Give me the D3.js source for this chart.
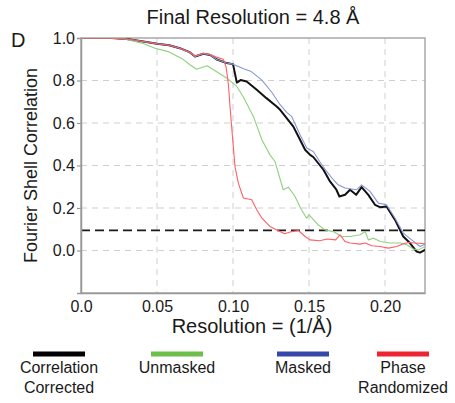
<!DOCTYPE html>
<html>
<head>
<meta charset="utf-8">
<script src="https://cdn.jsdelivr.net/npm/d3@7"></script>
<style>
  body { margin: 0; background: #fff; }
  svg text { font-family: "Liberation Sans", Arial, Helvetica, sans-serif; fill: #1a1a1a; }
</style>
</head>
<body>
<div id="chart"></div>
<script>
// FSC curves: [resolution (1/Å), FSC]
const shared = [
  [0, 1], [0.02, 1], [0.03, 0.995], [0.04, 0.985], [0.05, 0.973], [0.058, 0.966],
  [0.065, 0.952], [0.0717, 0.932], [0.075, 0.913], [0.0805, 0.926], [0.085, 0.92],
  [0.089, 0.9], [0.0958, 0.882], [0.1, 0.877],
];

const corrected = shared.concat([
  [0.1025, 0.79], [0.105, 0.802], [0.109, 0.795], [0.1156, 0.756], [0.122, 0.717],
  [0.1287, 0.678], [0.131, 0.662], [0.1353, 0.623], [0.1397, 0.583], [0.1441, 0.521],
  [0.1474, 0.474], [0.1507, 0.45], [0.1528, 0.44], [0.1595, 0.38], [0.1638, 0.325],
  [0.168, 0.286], [0.170, 0.254], [0.1737, 0.262], [0.177, 0.286], [0.181, 0.262],
  [0.1846, 0.298], [0.189, 0.262], [0.1934, 0.215], [0.1967, 0.204], [0.201, 0.207],
  [0.2066, 0.144], [0.212, 0.066], [0.2164, 0.035], [0.2208, -0.005], [0.223, -0.01],
  [0.2263, 0.003],
]);

const masked = shared.concat([
  [0.107, 0.855], [0.112, 0.842], [0.119, 0.802], [0.1254, 0.746], [0.131, 0.686],
  [0.1353, 0.65], [0.1386, 0.631], [0.1441, 0.545], [0.1485, 0.482], [0.1528, 0.466],
  [0.157, 0.419], [0.1616, 0.372], [0.166, 0.333], [0.1692, 0.309], [0.1737, 0.294],
  [0.1814, 0.286], [0.1846, 0.309], [0.1901, 0.278], [0.1956, 0.223], [0.201, 0.215],
  [0.2066, 0.152], [0.212, 0.082], [0.2175, 0.05], [0.223, 0.019], [0.2263, 0.03],
]);

const unmasked = [
  [0, 1], [0.02, 1], [0.029, 0.995], [0.04, 0.976], [0.0487, 0.952], [0.0574, 0.936],
  [0.063, 0.915], [0.066, 0.905], [0.0717, 0.874], [0.076, 0.853], [0.083, 0.869],
  [0.089, 0.842], [0.096, 0.811], [0.1025, 0.772], [0.107, 0.72], [0.1134, 0.631],
  [0.119, 0.521], [0.1243, 0.45], [0.1276, 0.419], [0.133, 0.286], [0.1364, 0.298],
  [0.1408, 0.254], [0.145, 0.192], [0.1485, 0.152], [0.15, 0.168], [0.156, 0.121],
  [0.1605, 0.097], [0.166, 0.089], [0.1715, 0.066], [0.177, 0.066], [0.1836, 0.074],
  [0.187, 0.089], [0.189, 0.05], [0.1924, 0.058], [0.197, 0.042], [0.2033, 0.035],
  [0.21, 0.035], [0.2143, 0.027], [0.2187, 0.007], [0.222, 0.003], [0.2263, 0.019],
];

const phaseRandomized = [
  [0, 1], [0.02, 1], [0.03, 0.995], [0.04, 0.985], [0.05, 0.973], [0.058, 0.966],
  [0.065, 0.952], [0.0717, 0.932], [0.075, 0.915], [0.0805, 0.928], [0.085, 0.922],
  [0.089, 0.91], [0.0936, 0.9], [0.0954, 0.866], [0.097, 0.78], [0.098, 0.68],
  [0.0996, 0.54], [0.1013, 0.395], [0.1035, 0.317], [0.1068, 0.247], [0.1123, 0.239],
  [0.1156, 0.192], [0.119, 0.152], [0.1243, 0.113], [0.1288, 0.097], [0.134, 0.079],
  [0.1386, 0.089], [0.143, 0.094], [0.1474, 0.066], [0.1507, 0.05], [0.157, 0.046],
  [0.162, 0.054], [0.1675, 0.05], [0.1704, 0.074], [0.1737, 0.042], [0.177, 0.035],
  [0.1836, 0.03], [0.187, 0.035], [0.1913, 0.022], [0.1967, 0.019], [0.2022, 0.011],
  [0.2077, 0.019], [0.2121, 0.032], [0.2154, 0.038], [0.2198, 0.035], [0.2263, 0.032],
];

const threshold = 0.095;
const xTicks = [0, 0.05, 0.1, 0.15, 0.2];
const xTickLabels = ['0.0', '0.05', '0.10', '0.15', '0.20'];
const yTicks = [0, 0.2, 0.4, 0.6, 0.8, 1.0];
const yTickLabels = ['0.0', '0.2', '0.4', '0.6', '0.8', '1.0'];

const series = [
  { key: 'corrected', label: ['Correlation', 'Corrected'], values: corrected, color: '#111', legend: '#000', width: 2, lx: 59 },
  { key: 'unmasked', label: ['Unmasked'], values: unmasked, color: '#8fd07e', legend: '#6bbf4a', width: 1.1, lx: 177 },
  { key: 'masked', label: ['Masked'], values: masked, color: '#8796d6', legend: '#3547a8', width: 1.1, lx: 303 },
  { key: 'phase', label: ['Phase', 'Randomized'], values: phaseRandomized, color: '#ff5f66', legend: '#ee2430', width: 1.1, lx: 403 },
];
// draw order: black at the bottom, red on top
const drawOrder = ['corrected', 'masked', 'unmasked', 'phase'];

const W = 455, H = 403;
const margin = { top: 38, right: 30, bottom: 110, left: 81 };

const x = d3.scaleLinear().domain([0, 0.2263]).range([margin.left, W - margin.right]);
const y = d3.scaleLinear().domain([-0.2, 1.0]).range([H - margin.bottom, margin.top]);

const svg = d3.select('#chart').append('svg').attr('width', W).attr('height', H);

svg.append('defs').append('clipPath').attr('id', 'plot-clip')
  .append('rect')
  .attr('x', x.range()[0]).attr('y', y.range()[1])
  .attr('width', x.range()[1] - x.range()[0])
  .attr('height', y.range()[0] - y.range()[1]);

// grid
const grid = svg.append('g').attr('class', 'grid')
  .style('stroke', '#cfcfcf').style('stroke-width', 1).style('stroke-dasharray', '6,5');

grid.selectAll('line.v')
  .data(xTicks.slice(1))
  .join('line').attr('class', 'v')
  .attr('x1', (d) => x(d)).attr('x2', (d) => x(d))
  .attr('y1', y.range()[1]).attr('y2', y.range()[0]);

grid.selectAll('line.h')
  .data(yTicks.slice(0, -1))
  .join('line').attr('class', 'h')
  .attr('x1', x.range()[0]).attr('x2', x.range()[1])
  .attr('y1', (d) => y(d)).attr('y2', (d) => y(d));

// frame
svg.append('rect')
  .attr('x', x.range()[0]).attr('y', y.range()[1])
  .attr('width', x.range()[1] - x.range()[0])
  .attr('height', y.range()[0] - y.range()[1])
  .style('fill', 'none').style('stroke', '#a8a8a8').style('stroke-width', 1.5);

// threshold
svg.append('line')
  .attr('x1', x.range()[0]).attr('x2', x.range()[1])
  .attr('y1', y(threshold)).attr('y2', y(threshold))
  .style('stroke', '#1a1a1a').style('stroke-width', 1.8).style('stroke-dasharray', '9,5');

// curves
const line = d3.line().x((d) => x(d[0])).y((d) => y(d[1]));
const curves = svg.append('g').attr('clip-path', 'url(#plot-clip)');
curves.selectAll('path')
  .data(drawOrder.map((k) => series.find((s) => s.key === k)))
  .join('path')
  .attr('d', (d) => line(d.values))
  .style('fill', 'none')
  .style('stroke', (d) => d.color)
  .style('stroke-width', (d) => d.width)
  .style('stroke-linejoin', 'round');

// axes
const yAxis = d3.axisLeft(y).tickValues(yTicks).tickFormat((d, i) => yTickLabels[i]).tickSize(4).tickPadding(2);
const gy = svg.append('g').attr('transform', `translate(${x.range()[0]},0)`).call(yAxis);
gy.select('.domain').style('stroke', '#999').style('stroke-width', 1.5);
gy.selectAll('.tick line').style('stroke', '#999').style('stroke-width', 1.2);
gy.selectAll('.tick text').style('font-size', '16px').style('fill', '#1a1a1a')
  .style('font-family', '"Liberation Sans", Arial, sans-serif');

const xAxis = d3.axisBottom(x).tickValues(xTicks).tickFormat((d, i) => xTickLabels[i]).tickSize(0).tickPadding(8);
const gx = svg.append('g').attr('transform', `translate(0,${y.range()[0]})`).call(xAxis);
gx.select('.domain').style('stroke', '#999').style('stroke-width', 1.5);
gx.selectAll('.tick text').style('font-size', '16px').style('fill', '#1a1a1a')
  .style('font-family', '"Liberation Sans", Arial, sans-serif');

// titles
svg.append('text').attr('x', 253).attr('y', 24).attr('text-anchor', 'middle')
  .style('font-size', '20px').text('Final Resolution = 4.8 Å');
svg.append('text').attr('x', 11).attr('y', 47).style('font-size', '20px').text('D');
svg.append('text')
  .attr('transform', `translate(37,${(y.range()[0] + y.range()[1]) / 2}) rotate(-90)`)
  .attr('text-anchor', 'middle').style('font-size', '18px').text('Fourier Shell Correlation');
svg.append('text').attr('x', 252).attr('y', 333).attr('text-anchor', 'middle')
  .style('font-size', '20px').text('Resolution = (1/Å)');

// legend
const legend = svg.append('g').selectAll('g').data(series).join('g')
  .attr('transform', (d) => `translate(${d.lx},0)`);
legend.append('line')
  .attr('x1', -26).attr('x2', 26).attr('y1', 354).attr('y2', 354)
  .style('stroke', (d) => d.legend).style('stroke-width', 5);
legend.selectAll('text').data((d) => d.label).join('text')
  .attr('x', 0).attr('y', (d, i) => 373 + i * 20)
  .attr('text-anchor', 'middle').style('font-size', '16px').text((d) => d);
</script>
</body>
</html>
